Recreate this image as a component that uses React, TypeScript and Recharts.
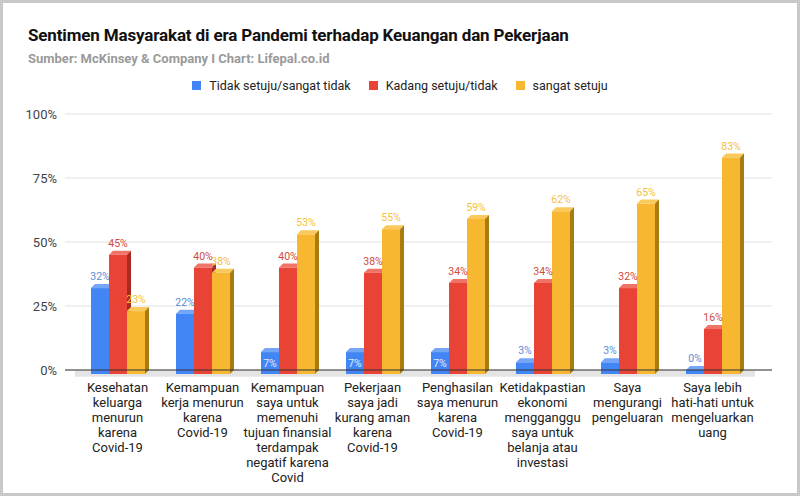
import {
    Bar,
    BarChart,
    CartesianGrid,
    LabelList,
    Legend,
    ReferenceArea,
    XAxis,
    YAxis,
} from 'recharts'

const categories = [
    'Kesehatan\nkeluarga\nmenurun\nkarena\nCovid-19',
    'Kemampuan\nkerja menurun\nkarena\nCovid-19',
    'Kemampuan\nsaya untuk\nmemenuhi\ntujuan finansial\nterdampak\nnegatif karena\nCovid',
    'Pekerjaan\nsaya jadi\nkurang aman\nkarena\nCovid-19',
    'Penghasilan\nsaya menurun\nkarena\nCovid-19',
    'Ketidakpastian\nekonomi\nmengganggu\nsaya untuk\nbelanja atau\ninvestasi',
    'Saya\nmengurangi\npengeluaran',
    'Saya lebih\nhati-hati untuk\nmengeluarkan\nuang',
]
const tidakSetuju = [32, 22, 7, 7, 7, 3, 3, 0]
const kadangSetuju = [45, 40, 40, 38, 34, 34, 32, 16]
const sangatSetuju = [23, 38, 53, 55, 59, 62, 65, 83]
const yTicks = [0, 25, 50, 75, 100]
const seriesOrder = ['tidak', 'kadang', 'sangat']

const data = categories.map((category, i) => ({
    category,
    tidak: tidakSetuju[i],
    kadang: kadangSetuju[i],
    sangat: sangatSetuju[i],
}))

const DEPTH = 4
const FONT = 'Roboto, "Liberation Sans", Arial, sans-serif'

interface Shade {
    front: string
    top: string
    side: string
    label: string
}

const BLUE: Shade = { front: '#4285f4', top: '#74a5f7', side: '#2b5fb5', label: '#5b8dd6' }
const RED: Shade = { front: '#e94335', top: '#f07367', side: '#a82a20', label: '#d2493f' }
const YELLOW: Shade = { front: '#f7b731', top: '#fac95c', side: '#a97c12', label: '#f4c040' }

function make3DBar(shade: Shade) {
    return function Bar3D(props: any) {
        const { x, y, width, height } = props
        if (x == null || y == null) return null
        const h = Math.max(height, 0) + DEPTH
        return (
            <g>
                <polygon
                    points={`${x},${y} ${x + DEPTH},${y - DEPTH} ${x + width + DEPTH},${y - DEPTH} ${x + width},${y}`}
                    fill={shade.top}
                />
                <polygon
                    points={`${x + width},${y} ${x + width + DEPTH},${y - DEPTH} ${x + width + DEPTH},${y + h - DEPTH} ${x + width},${y + h}`}
                    fill={shade.side}
                />
                <rect x={x} y={y} width={width} height={h} fill={shade.front} />
            </g>
        )
    }
}

function makeLabel(shade: Shade) {
    return function BarLabel(props: any) {
        const { x, y, width, height, value } = props
        const cx = x + width / 2
        // nilai kecil yang masih muat -> label di dalam batang
        if (height > 12 && height < 24) {
            return (
                <text x={cx} y={y + height / 2 + 6} textAnchor="middle" fontSize={10.5} fill="#e3ecfb" fontFamily={FONT}>
                    {value}%
                </text>
            )
        }
        return (
            <text x={cx} y={y - 8} textAnchor="middle" fontSize={10.5} fill={shade.label} fontFamily={FONT}>
                {value}%
            </text>
        )
    }
}

function CategoryTick({ x, y, payload }: any) {
    const lines = String(payload.value).split('\n')
    return (
        <text x={x} y={y} textAnchor="middle" fontSize={13} fill="#222" fontFamily={FONT}>
            {lines.map((line, i) => (
                <tspan key={i} x={x} dy={i === 0 ? 14 : 15}>
                    {line}
                </tspan>
            ))}
        </text>
    )
}

function LegendContent({ payload }: any) {
    const items = [...(payload ?? [])].sort(
        (a: any, b: any) => seriesOrder.indexOf(a.dataKey) - seriesOrder.indexOf(b.dataKey)
    )
    return (
        <div style={{ display: 'flex', justifyContent: 'center', alignItems: 'center', fontSize: 12.5, color: '#222' }}>
            {items.map((item: any, i: number) => (
                <div key={item.value} style={{ display: 'flex', alignItems: 'center', marginLeft: i === 0 ? 0 : 18 }}>
                    <span style={{ width: 9, height: 9, background: item.color, marginRight: 8, display: 'inline-block' }} />
                    <span>{item.value}</span>
                </div>
            ))}
        </div>
    )
}

export default function App() {
    return (
        <div
            style={{
                position: 'absolute',
                left: 0,
                top: 0,
                width: 800,
                height: 496,
                boxSizing: 'border-box',
                border: '3px solid #c9c9c9',
                background: '#fff',
                fontFamily: FONT,
                overflow: 'hidden',
            }}
        >
            <div style={{ position: 'absolute', left: 25, top: 22, fontSize: 17, fontWeight: 700, color: '#111', letterSpacing: -0.15 }}>
                Sentimen Masyarakat di era Pandemi terhadap Keuangan dan Pekerjaan
            </div>
            <div style={{ position: 'absolute', left: 25, top: 48, fontSize: 13, fontWeight: 700, color: '#9a9a9a' }}>
                Sumber: McKinsey &amp; Company I Chart: Lifepal.co.id
            </div>
            <div style={{ position: 'absolute', left: -3, top: -3 }}>
                <BarChart
                    width={800}
                    height={496}
                    data={data}
                    margin={{ top: 114, right: 28, left: 0, bottom: 0 }}
                    barGap={0}
                    barSize={18}
                >
                    <CartesianGrid vertical={false} stroke="#e2e2e2" />
                    <ReferenceArea
                        y1={-2.6}
                        y2={0}
                        ifOverflow="visible"
                        fill="#e4e4e4"
                        fillOpacity={1}
                        stroke="none"
                    />
                    <XAxis
                        dataKey="category"
                        interval={0}
                        height={126}
                        padding={{ left: 10, right: 17 }}
                        tickLine={false}
                        tickSize={0}
                        tickMargin={8}
                        axisLine={{ stroke: '#333', strokeWidth: 1.2 }}
                        tick={<CategoryTick />}
                    />
                    <YAxis
                        domain={[0, 100]}
                        ticks={yTicks}
                        width={65}
                        tickLine={false}
                        tickSize={0}
                        tickMargin={8}
                        axisLine={false}
                        tickFormatter={(v: number) => `${v}%`}
                        tick={{ fontSize: 13, fill: '#444', fontFamily: FONT }}
                    />
                    <Legend
                        layout="horizontal"
                        verticalAlign="middle"
                        align="center"
                        content={<LegendContent />}
                        wrapperStyle={{ top: 78, left: 0, width: 800, fontFamily: FONT }}
                    />
                    <Bar
                        dataKey="tidak"
                        name="Tidak setuju/sangat tidak"
                        fill={BLUE.front}
                        shape={make3DBar(BLUE)}
                        isAnimationActive={false}
                    >
                        <LabelList dataKey="tidak" content={makeLabel(BLUE)} />
                    </Bar>
                    <Bar
                        dataKey="kadang"
                        name="Kadang setuju/tidak"
                        fill={RED.front}
                        shape={make3DBar(RED)}
                        isAnimationActive={false}
                    >
                        <LabelList dataKey="kadang" content={makeLabel(RED)} />
                    </Bar>
                    <Bar
                        dataKey="sangat"
                        name="sangat setuju"
                        fill={YELLOW.front}
                        shape={make3DBar(YELLOW)}
                        isAnimationActive={false}
                    >
                        <LabelList dataKey="sangat" content={makeLabel(YELLOW)} />
                    </Bar>
                </BarChart>
            </div>
        </div>
    )
}
